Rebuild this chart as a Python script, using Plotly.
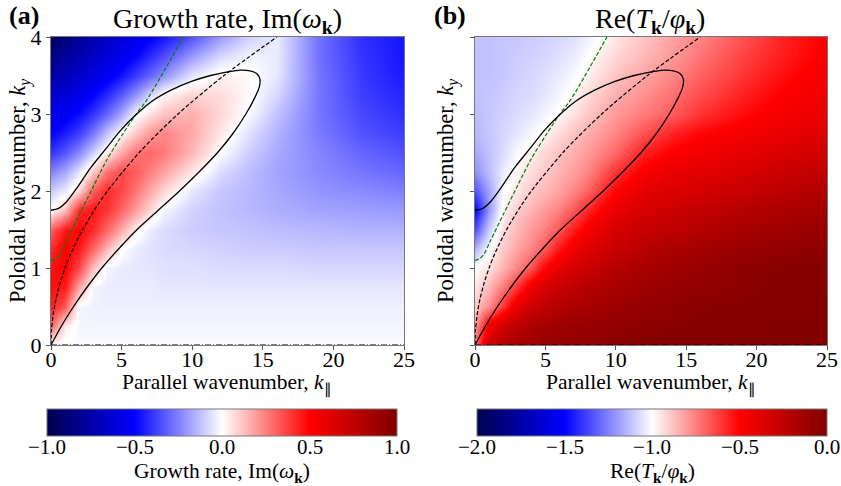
import plotly.graph_objects as go

# ---------------- data ----------------
k_par = [0, 1, 2, 3, 4, 5, 6, 7, 8, 10, 12, 14, 16, 19, 22, 25]
k_y = [0, 0.25, 0.5, 0.75, 1, 1.25, 1.5, 1.75, 2, 2.25, 2.5, 2.75, 3, 3.25, 3.5, 3.75, 4]

growth_rate = [
    [0.0, -0.01, -0.01, -0.01, -0.01, -0.01, -0.01, -0.01, -0.01, -0.01, -0.01, -0.01, -0.01, -0.01, -0.01, -0.01],
    [0.3, 0.04, -0.02, -0.02, -0.02, -0.02, -0.02, -0.02, -0.02, -0.02, -0.02, -0.02, -0.02, -0.02, -0.02, -0.02],
    [0.44, 0.32, -0.02, -0.03, -0.03, -0.03, -0.03, -0.03, -0.03, -0.03, -0.03, -0.03, -0.03, -0.03, -0.03, -0.03],
    [0.48, 0.45, 0.18, -0.02, -0.04, -0.04, -0.04, -0.04, -0.05, -0.05, -0.05, -0.05, -0.05, -0.05, -0.05, -0.05],
    [0.47, 0.5, 0.36, 0.13, -0.02, -0.04, -0.05, -0.05, -0.06, -0.06, -0.07, -0.07, -0.07, -0.08, -0.08, -0.08],
    [0.42, 0.51, 0.45, 0.3, 0.14, 0.0, -0.04, -0.06, -0.07, -0.08, -0.09, -0.1, -0.1, -0.11, -0.11, -0.11],
    [0.32, 0.46, 0.5, 0.42, 0.3, 0.16, 0.03, -0.04, -0.07, -0.1, -0.11, -0.12, -0.13, -0.14, -0.15, -0.15],
    [0.0, 0.12, 0.42, 0.46, 0.4, 0.3, 0.19, 0.08, -0.02, -0.09, -0.12, -0.14, -0.16, -0.18, -0.19, -0.2],
    [-0.1, -0.04, 0.08, 0.32, 0.42, 0.36, 0.27, 0.17, 0.08, -0.05, -0.11, -0.14, -0.17, -0.21, -0.23, -0.25],
    [-0.24, -0.17, -0.05, 0.1, 0.28, 0.36, 0.32, 0.25, 0.18, 0.05, -0.07, -0.13, -0.18, -0.23, -0.27, -0.3],
    [-0.4, -0.33, -0.23, -0.09, 0.04, 0.18, 0.28, 0.3, 0.26, 0.14, 0.0, -0.1, -0.17, -0.24, -0.3, -0.34],
    [-0.5, -0.45, -0.38, -0.27, -0.12, 0.01, 0.11, 0.2, 0.24, 0.17, 0.05, -0.06, -0.15, -0.26, -0.34, -0.38],
    [-0.57, -0.53, -0.48, -0.4, -0.3, -0.17, -0.01, 0.06, 0.12, 0.16, 0.08, -0.01, -0.12, -0.27, -0.36, -0.41],
    [-0.65, -0.61, -0.56, -0.5, -0.42, -0.32, -0.21, -0.08, 0.02, 0.09, 0.07, 0.01, -0.08, -0.27, -0.38, -0.43],
    [-0.75, -0.7, -0.65, -0.59, -0.53, -0.46, -0.38, -0.3, -0.21, -0.05, 0.03, 0.01, -0.05, -0.27, -0.39, -0.45],
    [-0.85, -0.79, -0.73, -0.67, -0.61, -0.55, -0.49, -0.42, -0.35, -0.2, -0.08, -0.02, -0.04, -0.28, -0.4, -0.46],
    [-0.97, -0.87, -0.8, -0.73, -0.67, -0.61, -0.56, -0.51, -0.46, -0.34, -0.2, -0.09, -0.04, -0.28, -0.41, -0.46],
]

temp_ratio = [
    [-0.72, -0.3, -0.2, -0.15, -0.12, -0.1, -0.08, -0.07, -0.06, -0.04, -0.03, -0.02, -0.02, -0.01, -0.01, -0.01],
    [-0.8, -0.45, -0.3, -0.22, -0.17, -0.14, -0.12, -0.1, -0.09, -0.07, -0.05, -0.04, -0.03, -0.02, -0.01, -0.01],
    [-0.89, -0.77, -0.6, -0.4, -0.3, -0.24, -0.2, -0.17, -0.15, -0.11, -0.08, -0.06, -0.04, -0.03, -0.02, -0.01],
    [-0.95, -0.86, -0.74, -0.6, -0.44, -0.34, -0.28, -0.24, -0.21, -0.16, -0.12, -0.09, -0.07, -0.05, -0.03, -0.02],
    [-1.0, -0.94, -0.85, -0.76, -0.66, -0.5, -0.4, -0.33, -0.29, -0.21, -0.16, -0.12, -0.09, -0.05, -0.03, -0.02],
    [-1.15, -1.0, -0.89, -0.82, -0.76, -0.67, -0.54, -0.44, -0.37, -0.28, -0.22, -0.17, -0.14, -0.1, -0.07, -0.05],
    [-1.34, -1.1, -0.93, -0.86, -0.8, -0.75, -0.66, -0.55, -0.46, -0.34, -0.28, -0.24, -0.2, -0.15, -0.12, -0.09],
    [-1.5, -1.2, -0.98, -0.9, -0.85, -0.8, -0.75, -0.67, -0.57, -0.41, -0.34, -0.3, -0.26, -0.21, -0.17, -0.14],
    [-1.34, -1.18, -1.01, -0.95, -0.9, -0.86, -0.82, -0.76, -0.69, -0.5, -0.4, -0.36, -0.33, -0.28, -0.23, -0.19],
    [-1.22, -1.13, -1.04, -0.98, -0.93, -0.89, -0.85, -0.81, -0.76, -0.6, -0.47, -0.42, -0.39, -0.34, -0.29, -0.25],
    [-1.17, -1.12, -1.07, -1.01, -0.97, -0.92, -0.88, -0.84, -0.8, -0.7, -0.56, -0.49, -0.45, -0.4, -0.35, -0.31],
    [-1.14, -1.11, -1.08, -1.05, -1.02, -0.98, -0.93, -0.88, -0.84, -0.76, -0.66, -0.57, -0.51, -0.46, -0.41, -0.36],
    [-1.13, -1.11, -1.09, -1.07, -1.05, -1.02, -0.99, -0.94, -0.89, -0.8, -0.74, -0.68, -0.6, -0.52, -0.46, -0.41],
    [-1.12, -1.11, -1.1, -1.08, -1.07, -1.05, -1.02, -0.98, -0.93, -0.84, -0.78, -0.72, -0.65, -0.56, -0.49, -0.44],
    [-1.12, -1.12, -1.11, -1.09, -1.08, -1.06, -1.04, -1.01, -0.97, -0.88, -0.82, -0.76, -0.69, -0.6, -0.52, -0.46],
    [-1.12, -1.12, -1.11, -1.1, -1.09, -1.08, -1.06, -1.04, -1.0, -0.92, -0.86, -0.8, -0.73, -0.63, -0.55, -0.48],
    [-1.12, -1.12, -1.11, -1.11, -1.1, -1.09, -1.08, -1.06, -1.03, -0.95, -0.88, -0.82, -0.76, -0.66, -0.56, -0.49],
]

# zero-growth contour (solid black)
contour_k = [0, 0.75, 1.6, 2.55, 3.6, 4.8, 6.1, 7.6, 9.1, 10.5, 11.8, 12.9, 13.8, 14.4, 14.75, 14.8,
             14.6, 14.1, 13.4, 12.6, 11.3, 9.9, 8.5, 7.1, 5.9, 4.9, 3.85, 2.8, 1.8, 1.1, 0.5, 0]
contour_ky = [0, 0.25, 0.5, 0.75, 1.0, 1.25, 1.5, 1.75, 2.0, 2.25, 2.5, 2.75, 3.0, 3.2, 3.35, 3.45,
              3.52, 3.56, 3.57, 3.55, 3.5, 3.42, 3.31, 3.16, 2.97, 2.78, 2.54, 2.3, 2.03, 1.86, 1.77, 1.75]

# black dashed curve
ridge_k = [0, 0.04, 0.16, 0.36, 0.64, 1.0, 1.44, 2.25, 3.24, 4.0, 6.25, 9.0, 12.25, 16.0]
ridge_ky = [0, 0.2, 0.4, 0.6, 0.8, 1.0, 1.2, 1.5, 1.8, 2.0, 2.5, 3.0, 3.5, 4.0]

# green dashed curve
green_k = [0, 0.3, 0.6, 1.11, 2.05, 3.0, 3.94, 5.12, 6.07, 6.78, 9.37]
green_ky = [1.1, 1.12, 1.17, 1.36, 1.71, 2.06, 2.40, 2.75, 3.01, 3.18, 4.0]

x_ticks = [0, 5, 10, 15, 20, 25]
y_ticks = [0, 1, 2, 3, 4]
cbar_a_ticks = [-1.0, -0.5, 0.0, 0.5, 1.0]
cbar_b_ticks = [-2.0, -1.5, -1.0, -0.5, 0.0]

# ---------------- figure ----------------
seismic = [[0.0, 'rgb(0,0,77)'], [0.25, 'rgb(0,0,255)'], [0.5, 'rgb(255,255,255)'],
           [0.75, 'rgb(255,0,0)'], [1.0, 'rgb(128,0,0)']]
FONT = "Liberation Serif"
W, H = 841, 486
CB_A = (47, 397)   # colourbar (a) pixel extent
CB_B = (477, 827)  # colourbar (b) pixel extent

fig = go.Figure()

cb_common = dict(orientation='h', thickness=27, lenmode='fraction', len=350 / W,
                 yanchor='top', y=1 - 409 / H, xanchor='center', xpad=0, ypad=0,
                 outlinewidth=1, outlinecolor='#777', ticks='', showticklabels=False)

fig.add_trace(go.Heatmap(
    x=k_par, y=k_y, z=growth_rate, zmin=-1, zmax=1, colorscale=seismic, zsmooth='best',
    xaxis='x', yaxis='y', hoverinfo='skip',
    colorbar=dict(cb_common, x=(CB_A[0] + CB_A[1]) / 2 / W)))

fig.add_trace(go.Heatmap(
    x=k_par, y=k_y, z=temp_ratio, zmin=-2, zmax=0, colorscale=seismic, zsmooth='best',
    xaxis='x2', yaxis='y2', hoverinfo='skip',
    colorbar=dict(cb_common, x=(CB_B[0] + CB_B[1]) / 2 / W)))

for xa, ya in (('x', 'y'), ('x2', 'y2')):
    fig.add_trace(go.Scatter(x=[0, 25], y=[0, 0], mode='lines', xaxis=xa, yaxis=ya,
                             line=dict(color='black', width=1.2, dash='6px,2px,1px,2px'),
                             showlegend=False, hoverinfo='skip', cliponaxis=False))
    fig.add_trace(go.Scatter(x=green_k, y=green_ky, mode='lines', xaxis=xa, yaxis=ya,
                             line=dict(color='green', width=1.2, dash='4px,2px', shape='spline', smoothing=0.8),
                             showlegend=False, hoverinfo='skip'))
    fig.add_trace(go.Scatter(x=ridge_k, y=ridge_ky, mode='lines', xaxis=xa, yaxis=ya,
                             line=dict(color='black', width=1.2, dash='4px,2px', shape='spline', smoothing=0.8),
                             showlegend=False, hoverinfo='skip'))
    fig.add_trace(go.Scatter(x=contour_k, y=contour_ky, mode='lines', xaxis=xa, yaxis=ya,
                             line=dict(color='black', width=1.3, shape='spline', smoothing=0.6),
                             showlegend=False, hoverinfo='skip'))

axis_common = dict(showline=True, mirror=True, linecolor='#777', linewidth=1, automargin=False,
                   ticks='outside', ticklen=4, tickcolor='#555', showgrid=False, zeroline=False,
                   tickfont=dict(family=FONT, size=22, color='black'))

x_title = 'Parallel wavenumber, <i>k</i><sub>∥</sub>'
y_title = 'Poloidal wavenumber, <i>k<sub>y</sub></i>'


def note(text, x, y, size, angle=0):
    return dict(text=text, x=x / W, y=1 - y / H, xref='paper', yref='paper', xanchor='center',
                yanchor='middle', showarrow=False, textangle=angle,
                font=dict(family=FONT, size=size, color='black'))


def fmt(v):
    s = f"{abs(v):.1f}"
    return ("\u2212" + s) if v < 0 else s


cbar_labels = []
for ticks, (px0, px1) in ((cbar_a_ticks, CB_A), (cbar_b_ticks, CB_B)):
    lo, hi = ticks[0], ticks[-1]
    for v in ticks:
        cbar_labels.append(note(fmt(v), px0 + (v - lo) / (hi - lo) * (px1 - px0), 447, 21))

fig.update_layout(
    width=W, height=H, margin=dict(l=0, r=0, t=0, b=0, autoexpand=False),
    paper_bgcolor='white', plot_bgcolor='white', showlegend=False,
    xaxis=dict(axis_common, domain=[51 / W, 404 / W], range=[0, 25], tickvals=x_ticks, anchor='y',
               ticklabelstandoff=-9),
    yaxis=dict(axis_common, domain=[1 - 345 / H, 1 - 37 / H], range=[0, 4], tickvals=y_ticks, anchor='x'),
    xaxis2=dict(axis_common, domain=[475 / W, 827 / W], range=[0, 25], tickvals=x_ticks, anchor='y2',
                ticklabelstandoff=-9),
    yaxis2=dict(axis_common, domain=[1 - 345 / H, 1 - 37 / H], range=[0, 4], tickvals=y_ticks, anchor='x2',
                showticklabels=False),
    annotations=[
        note('<b>(a)</b>', 24, 16, 26),
        note('<b>(b)</b>', 450, 16, 26),
        note('Growth rate, Im(<i>ω</i><sub><b>k</b></sub>)', 227.5, 20, 28),
        note('Re(<i>T</i><sub><b>k</b></sub>/<i>φ</i><sub><b>k</b></sub>)', 650, 20, 28),
        note(x_title, 227.5, 384, 21.5),
        note(x_title, 651, 384, 21.5),
        note(y_title, 19, 191, 22.5, -90),
        note(y_title, 447, 191, 22.5, -90),
        note('Growth rate, Im(<i>ω</i><sub><b>k</b></sub>)', 222, 472, 21.5),
        note('Re(<i>T</i><sub><b>k</b></sub>/<i>φ</i><sub><b>k</b></sub>)', 652, 472, 21.5),
    ] + cbar_labels,
)

fig.write_html("out.html")
